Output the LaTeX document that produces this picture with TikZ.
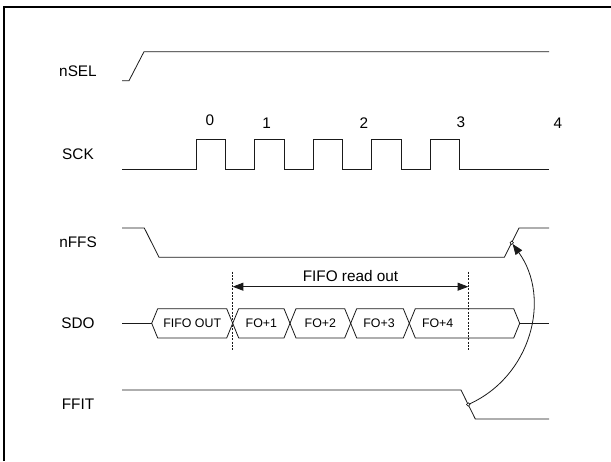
\documentclass[tikz,border=0pt]{standalone}
\usepackage{fontspec}
\setmainfont{Liberation Sans}
\usepackage{tikz}
\usetikzlibrary{arrows.meta}
\definecolor{waveColor}{HTML}{1A1A1A}

\tikzset{
    wave/.style={line width=0.6pt, waveColor},
    signame/.style={font=\fontsize{11.5}{13}\selectfont},
    cellname/.style={font=\fontsize{9.3}{11}\selectfont},
    guide/.style={line width=0.5pt, waveColor, dash pattern=on 1.5pt off 1pt},
    tip/.tip={Triangle[length=8pt, width=6pt]},
}

\begin{document}
\begin{tikzpicture}[x=0.75pt, y=-0.75pt]
    \useasboundingbox (0,0) rectangle (611,461);
    \draw[line width=0.8pt] (4,461) -- (4,7) -- (611,7);

    \node[signame] (nsel) at (78,71) {nSEL};
    \node[signame] (sck)  at (78,154) {SCK};
    \node[signame] (nffs) at (78,242) {nFFS};
    \node[signame] (sdo)  at (78,323.3) {SDO};
    \node[signame] (ffit) at (78,404) {FFIT};

    \draw[wave] (122,80.7) -- (129,80.7) -- (144,51.7) -- (549,51.7);

    \draw[wave] (122,169)
        foreach \x in {196,254.6,313.2,371.8,430.4} {
            -- (\x,169) -- (\x,139.3) -- (\x+29.3,139.3) -- (\x+29.3,169)
        } -- (549,169);
    \foreach \n/\px/\py in {0/210/120.7, 1/266.7/123.3, 2/364/122.7, 3/461/122.7, 4/558/123.3}
        \node[signame] (clk\n) at (\px,\py) {\n};

    \draw[wave] (122,228) -- (144.3,228) -- (159,257.3) -- (504.3,257.3)
        -- (519,228) -- (549,228);
    \coordinate (nffsedge) at (511.7,242.7);

    \draw[wave] (122,323.3) -- (151.7,323.3);
    \draw[wave] (519.7,323.3) -- (549,323.3);
    \foreach \a/\b/\lx/\txt [count=\i] in {151.7/232.7/192.2/FIFO OUT,
            232.7/290/261.4/FO+1, 290/350.7/320.4/FO+2,
            350.7/409.3/379/FO+3, 409.3/519.7/437.7/FO+4} {
        \draw[wave] (\a,323.3) -- (\a+6,308.7) -- (\b-6,308.7) -- (\b,323.3)
            -- (\b-6,338) -- (\a+6,338) -- cycle;
        \node[cellname] (cell\i) at (\lx,323.3) {\txt};
    }

    \draw[guide] (232.7,271.7) -- (232.7,351.7);
    \draw[guide] (468.3,271.7) -- (468.3,351.7);
    \coordinate (readstart) at (232.7,286.7);
    \coordinate (readend) at (468.3,286.7);
    \draw[wave, tip-tip] (readstart) -- (readend);
    \node[signame] (readout) at (350.5,276) {FIFO read out};

    \draw[wave] (122,390) -- (461,390) -- (475.3,419) -- (549,419);
    \coordinate (ffitedge) at (468.2,404.5);

    \draw[wave, -tip, shorten >=1.2pt] (ffitedge)
        .. controls (530.9,377) and (551.8,298.2) .. (nffsedge);
    \draw[line width=0.4pt, fill=white] (ffitedge) circle[radius=1.3pt];
    \draw[line width=0.4pt, fill=white] (nffsedge) circle[radius=1.3pt];
\end{tikzpicture}
\end{document}
